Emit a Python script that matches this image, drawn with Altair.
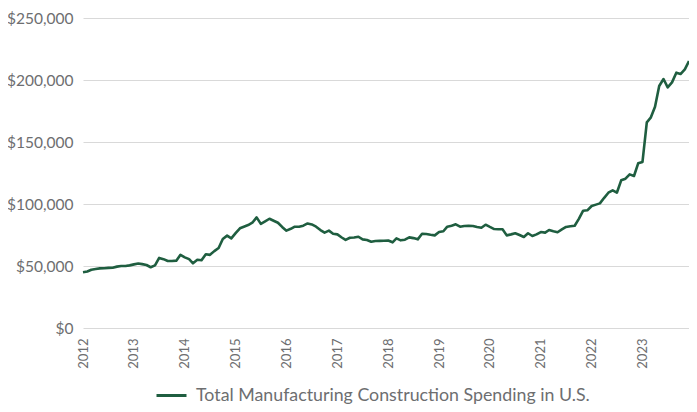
import altair as alt
import pandas as pd

start_month = "2012-01-01"
n_months = 144
series_name = "Total Manufacturing Construction Spending in U.S."
spending = [
    45.0, 45.6, 47.0, 47.6, 48.1, 48.2, 48.5, 48.6, 49.5, 50.0, 50.0, 50.5,
    51.3, 52.0, 51.5, 50.8, 49.0, 50.5, 56.5, 55.5, 54.0, 54.0, 54.3, 59.0,
    57.0, 55.5, 52.2, 55.0, 54.6, 59.5, 59.0, 62.0, 64.5, 71.8, 74.5, 72.3,
    76.5, 80.4, 81.7, 83.0, 84.9, 89.2, 84.0, 86.0, 88.1, 86.5, 84.9, 81.5,
    78.5, 80.0, 81.7, 81.7, 82.5, 84.3, 83.5, 81.7, 79.0, 76.9, 78.5, 76.0,
    75.5, 73.0, 71.0, 72.8, 73.0, 73.6, 71.5, 71.0, 69.6, 70.2, 70.3, 70.4,
    70.6, 69.1, 72.3, 70.7, 71.2, 73.1, 72.5, 71.5, 76.0, 75.8, 75.2, 74.7,
    77.4, 78.0, 81.7, 82.5, 83.6, 81.7, 82.3, 82.5, 82.3, 81.5, 80.9, 83.3,
    81.5, 79.8, 79.6, 79.6, 74.7, 75.5, 76.4, 75.0, 73.4, 76.4, 74.2, 75.5,
    77.4, 76.9, 79.0, 78.0, 77.2, 79.5, 81.5, 82.0, 82.5, 88.0, 94.6, 94.9,
    98.4, 99.5, 100.5, 105.0, 109.1, 111.0, 109.1, 119.1, 120.4, 123.9, 122.6, 132.8,
    133.9, 165.9, 169.6, 178.5, 195.2, 200.8, 194.1, 198.1, 205.9, 204.8, 208.6, 215.3,
]
year_ticks = list(range(2012, 2024))

dates = pd.date_range(start_month, periods=n_months, freq="MS")
df = pd.DataFrame({
    "date": dates.strftime("%Y-%m-%d"),
    "value": [v * 1000 for v in spending],
    "series": series_name,
})

font = "Lato"
text_color = "#6d6e70"
line_color = "#1f5e40"

chart = alt.Chart(df).mark_line(strokeWidth=2.6, color=line_color, strokeJoin="round").encode(
    x=alt.X("date:T",
            scale=alt.Scale(domain=[dates[0].strftime("%Y-%m-%d"), dates[-1].strftime("%Y-%m-%d")], nice=False),
            axis=alt.Axis(title=None, values=[{"year": y, "month": 1, "date": 1} for y in year_ticks],
                          format="%Y", labelAngle=270, labelAlign="right", labelBaseline="middle",
                          grid=False, ticks=False, domain=False,
                          labelPadding=10, labelFontSize=13, labelColor=text_color, labelFont=font)),
    y=alt.Y("value:Q",
            scale=alt.Scale(domain=[0, 250000]),
            axis=alt.Axis(title=None, values=[0, 50000, 100000, 150000, 200000, 250000],
                          format="$,.0f", grid=True, gridColor="#d9d9d9", gridWidth=1.2,
                          ticks=False, domain=False, labelPadding=10,
                          labelFontSize=15.5, labelColor=text_color, labelFont=font)),
    color=alt.Color("series:N", scale=alt.Scale(range=[line_color]),
                    legend=alt.Legend(title=None, orient="none", legendX=72, legendY=361,
                                      symbolType="stroke", symbolSize=900, symbolStrokeWidth=3,
                                      labelOffset=8,
                                      labelFontSize=17.8, labelColor=text_color, labelFont=font,
                                      labelLimit=600)),
).properties(
    width=606, height=310,
    autosize=alt.AutoSizeParams(type="none"),
    padding={"left": 75, "top": 10, "right": 0, "bottom": 76},
).configure_view(stroke=None)

chart.save("out.html", embed_options={"renderer": "svg", "actions": False})
